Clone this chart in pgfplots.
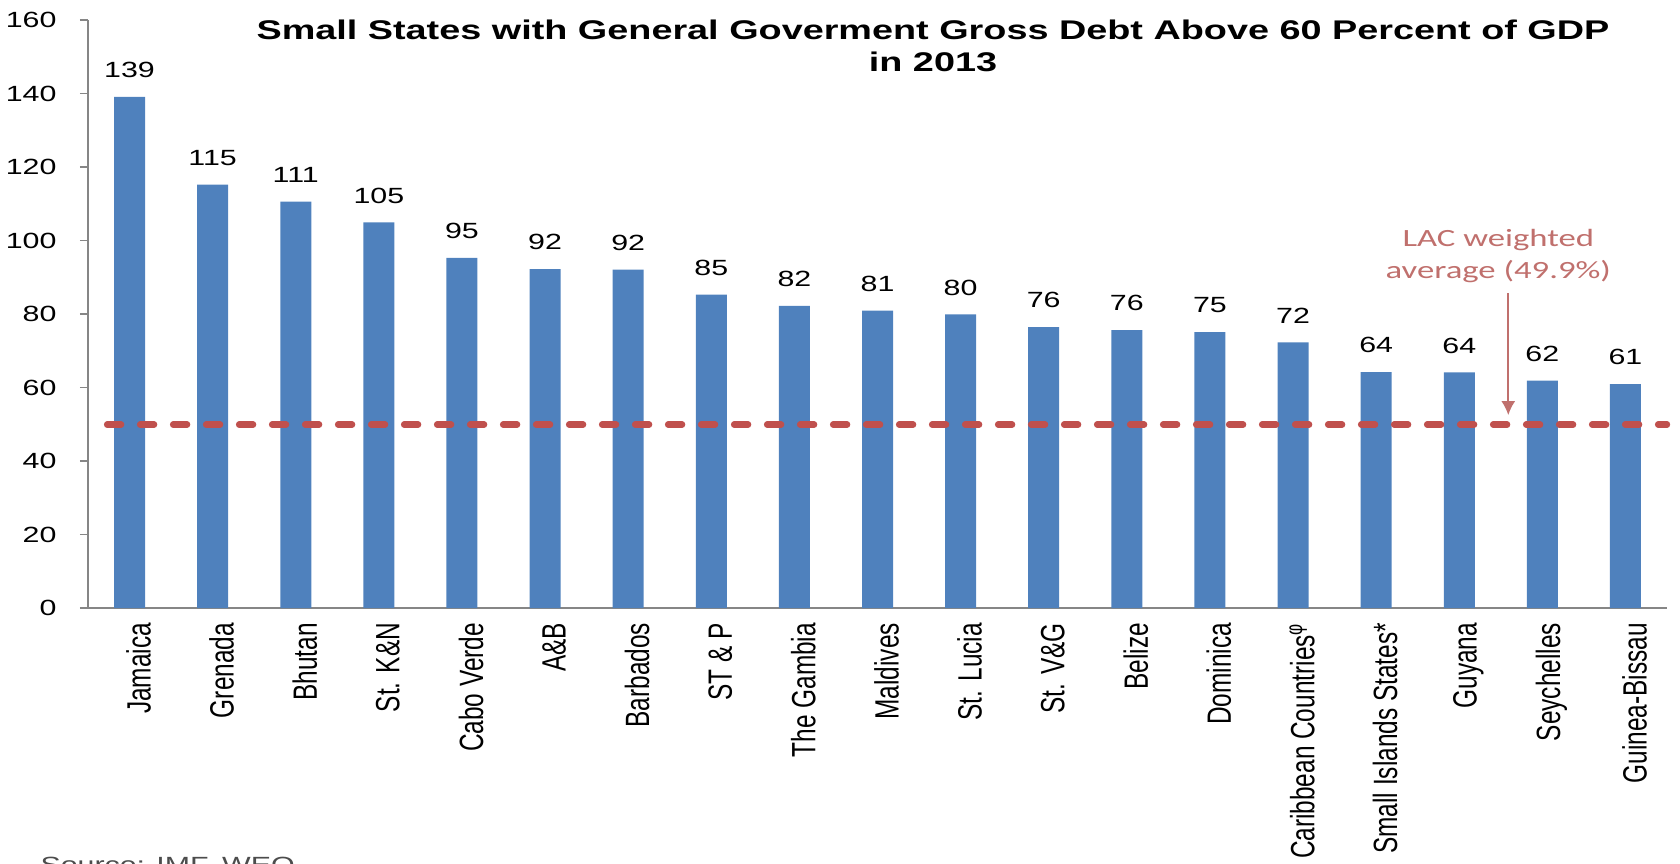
\documentclass[border=0pt]{standalone}
\usepackage{pgfplots}
\pgfplotsset{compat=1.18}
\usetikzlibrary{arrows.meta}
\usepackage{fontspec}
\setmainfont{Liberation Sans}
\newfontfamily\calib{Carlito}
\definecolor{barblue}{HTML}{4F81BD}
\definecolor{avgred}{HTML}{C0504D}
\definecolor{annred}{HTML}{C0706D}
\definecolor{axgray}{HTML}{868686}
\newcommand\sx[1]{\scalebox{1}[1.38]{#1}}
\begin{document}
\begin{tikzpicture}
\useasboundingbox (-44pt,-127.5pt) rectangle (796pt,304pt);
\begin{axis}[
  scale only axis,
  width=789.5pt, height=294pt,
  xmin=-0.5, xmax=18.5, ymin=0, ymax=160,
  axis x line*=bottom, axis y line*=left,
  axis line style={axgray, line width=0.8pt},
  every tick/.style={axgray, line width=0.8pt},
  tick align=outside,
  ytick={0,20,...,160},
  major tick length=4pt,
  xtick={0,...,18},
  x tick style={draw=none},
  minor xtick={-0.5,0.5,...,18.5},
  minor tick length=4pt,
  xticklabels={\sx{Jamaica},\sx{Grenada},\sx{Bhutan},\sx{St. K\&N},\sx{Cabo Verde},\sx{A\&B},\sx{Barbados},\sx{ST \& P},\sx{The Gambia},\sx{Maldives},\sx{St. Lucia},\sx{St. V\&G},\sx{Belize},\sx{Dominica},\sx{Caribbean  Countries\textsuperscript{φ}},\sx{Small Islands States*},\sx{Guyana},\sx{Seychelles},\sx{Guinea-Bissau}},
  xticklabel style={font=\fontsize{12.2}{14}\selectfont, rotate=90, anchor=east, yshift=-4.5pt},
  yticklabel style={font=\fontsize{11}{13}\selectfont, xscale=1.38, anchor=east, xshift=-5pt},
  /pgf/number format/assume math mode=true,
  ybar, bar width=15.5pt,
  clip=false,
  nodes near coords,
  nodes near coords style={font=\fontsize{11}{13}\selectfont, xscale=1.38, anchor=south, yshift=6pt, /pgf/number format/fixed, /pgf/number format/precision=0},
]
\addplot[fill=barblue, draw=none] coordinates {
(0,139.1) (1,115.2) (2,110.6) (3,104.9) (4,95.3) (5,92.2) (6,92.1) (7,85.3) (8,82.2) (9,80.9) (10,79.9) (11,76.4) (12,75.6) (13,75.1) (14,72.3) (15,64.2) (16,64.1) (17,61.9) (18,60.9)
};
\addplot[sharp plot, no marks, nodes near coords={}, avgred, line width=3.2pt, line cap=round, dash pattern=on 7pt off 9.5pt] coordinates {(-0.27,49.9) (18.5,49.9)};
\draw[annred, line width=0.8pt, -{Latex[length=7pt,width=7pt]}] (axis cs:16.59,85.7) -- (axis cs:16.59,52.5);
\node[annred, font=\calib\fontsize{12.4}{16}\selectfont, xscale=1.40, align=center] at (axis cs:16.47,95.8) {LAC weighted\\average (49.9\%)};
\end{axis}
\node[anchor=base, font=\bfseries\fontsize{13.5}{16}\selectfont, xscale=1.40] at (422.5pt,284pt) {Small States with General Goverment Gross Debt Above 60 Percent of GDP};
\node[anchor=base, font=\bfseries\fontsize{13.5}{16}\selectfont, xscale=1.40] at (422.5pt,268pt) {in 2013};
\node[anchor=north west, inner sep=0pt, font=\fontsize{11}{13}\selectfont, xscale=1.38, text=black!70] at (-24pt,-124.5pt) {Source: IMF, WEO};
\end{tikzpicture}
\end{document}
